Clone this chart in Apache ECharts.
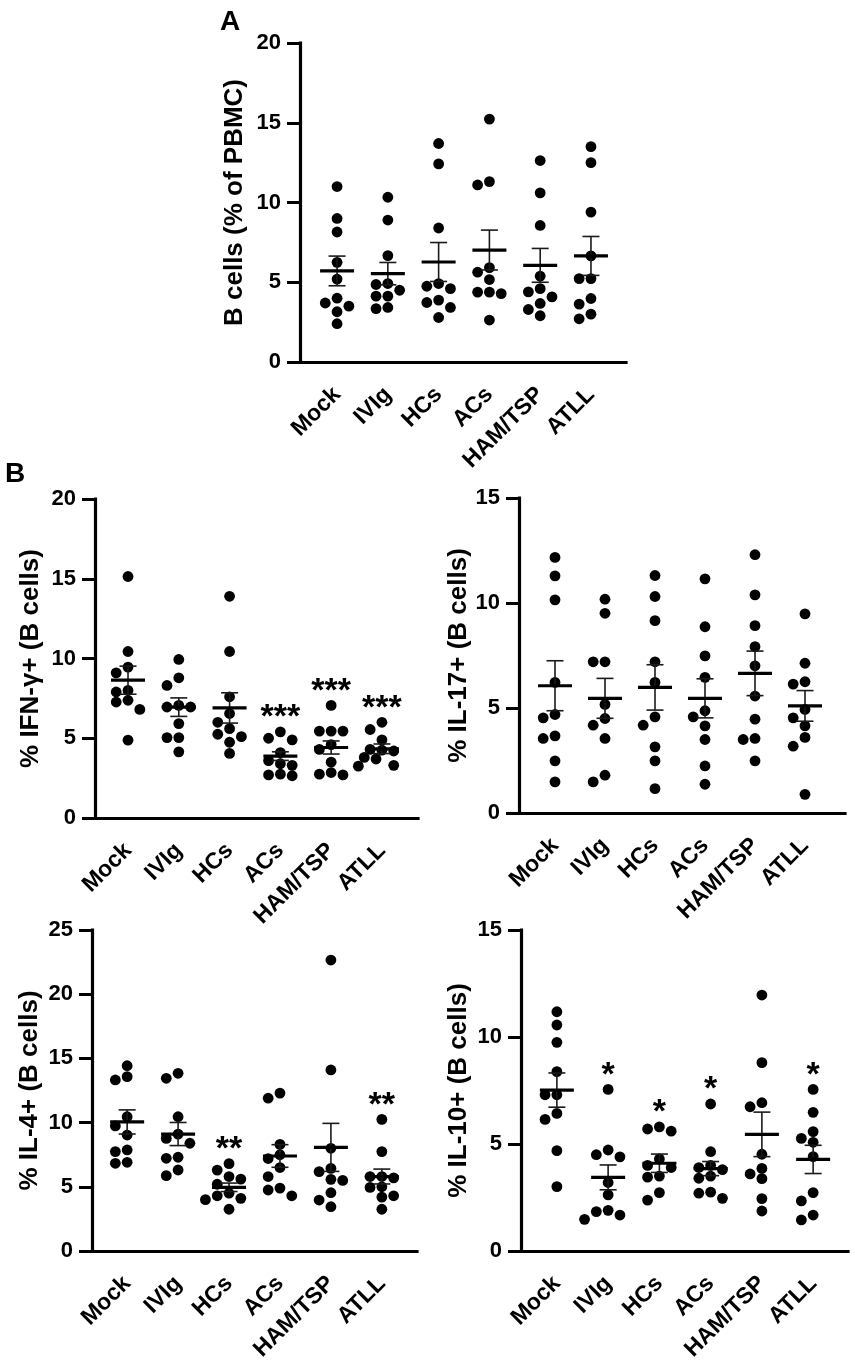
<!DOCTYPE html>
<html>
<head>
<meta charset="utf-8">
<script src="https://cdn.jsdelivr.net/npm/echarts@6/dist/echarts.min.js"></script>
<style>
html,body{margin:0;padding:0;background:#fff;}
#chart{width:855px;height:1368px;}
</style>
</head>
<body>
<div id="chart"></div>
<script>
// ---------- data ----------
const categories = ['Mock', 'IVIg', 'HCs', 'ACs', 'HAM/TSP', 'ATLL'];

const bCellsValues = [
  [11.0, 9.0, 8.15, 6.25, 5.2, 4.0, 3.7, 3.5, 3.15, 2.4],
  [10.33, 8.9, 6.67, 4.92, 4.86, 4.5, 4.13, 4.13, 3.42, 3.35],
  [13.7, 12.42, 8.4, 4.92, 4.75, 4.6, 3.88, 3.73, 3.42, 2.79],
  [15.23, 11.31, 11.1, 5.92, 5.63, 5.17, 4.38, 4.38, 4.29, 2.63],
  [12.63, 10.6, 8.56, 5.38, 4.6, 4.4, 4.08, 3.67, 3.29, 2.9],
  [13.5, 12.5, 9.4, 6.65, 5.23, 5.23, 3.98, 3.63, 3.0, 2.71]
];
const bCellsMean = [5.71, 5.54, 6.27, 7.02, 6.06, 6.65];
const bCellsSem = [0.93, 0.7, 1.22, 1.25, 1.06, 1.22];
const bCellsSig = ['', '', '', '', '', ''];

const ifngValues = [
  [15.14, 10.44, 9.46, 9.1, 8.0, 7.9, 7.38, 7.27, 6.81, 4.88],
  [9.94, 8.79, 8.31, 7.06, 6.96, 6.96, 5.92, 5.04, 5.04, 4.15],
  [13.9, 10.44, 7.6, 6.55, 6.0, 5.6, 5.25, 5.1, 4.75, 4.05],
  [5.4, 5.0, 4.9, 4.1, 3.6, 3.4, 3.3, 2.75, 2.7, 2.65],
  [7.06, 5.45, 5.45, 5.45, 4.6, 4.3, 3.5, 2.85, 2.75, 2.7],
  [6.0, 5.55, 4.9, 4.3, 4.25, 4.2, 3.8, 3.7, 3.3, 3.25]
];
const ifngMean = [8.64, 6.95, 6.9, 3.88, 4.42, 4.34];
const ifngSem = [0.88, 0.58, 0.95, 0.27, 0.41, 0.3];
const ifngSig = ['', '', '', '***', '***', '***'];

const il17Values = [
  [12.17, 11.29, 10.15, 6.22, 4.69, 4.53, 3.67, 3.55, 2.48, 1.48],
  [10.18, 9.51, 7.2, 7.2, 5.17, 4.5, 4.18, 3.55, 1.8, 1.48],
  [11.31, 10.31, 9.16, 7.2, 6.22, 4.58, 4.18, 3.15, 2.48, 1.16],
  [11.15, 8.87, 7.48, 6.46, 4.87, 4.58, 4.15, 3.5, 2.24, 1.37],
  [12.3, 10.39, 8.92, 7.92, 7.01, 5.57, 4.47, 3.55, 3.5, 2.48],
  [9.48, 7.13, 6.25, 6.14, 4.93, 4.53, 4.15, 3.6, 3.18, 0.89]
];
const il17Mean = [6.06, 5.46, 5.98, 5.46, 6.65, 5.1];
const il17Sem = [1.19, 0.95, 1.08, 0.93, 1.06, 0.73];
const il17Sig = ['', '', '', '', '', ''];

const il4Values = [
  [14.43, 13.58, 13.32, 10.46, 9.74, 9.03, 7.87, 7.74, 6.91, 6.83],
  [13.84, 13.45, 10.46, 9.1, 8.77, 8.39, 7.3, 7.22, 6.31, 5.87],
  [6.8, 6.3, 5.8, 5.6, 5.2, 4.5, 4.3, 4.1, 4.0, 3.25],
  [12.3, 11.9, 8.3, 7.5, 7.2, 6.5, 5.8, 4.9, 4.75, 4.3],
  [22.66, 14.1, 8.0, 6.44, 6.18, 5.58, 5.5, 4.54, 3.97, 3.45],
  [10.25, 7.74, 5.8, 5.8, 5.7, 5.0, 4.95, 4.3, 4.2, 3.25]
];
const il4Mean = [10.05, 9.11, 4.96, 7.4, 8.07, 5.8];
const il4Sem = [0.94, 0.9, 0.33, 0.88, 1.87, 0.58];
const il4Sig = ['', '', '**', '', '', '**'];

const il10Values = [
  [11.18, 10.56, 9.75, 8.38, 7.3, 7.3, 6.43, 6.15, 4.69, 3.01],
  [7.55, 4.72, 4.5, 4.4, 3.2, 2.62, 1.9, 1.84, 1.68, 1.48],
  [5.8, 5.7, 5.6, 4.3, 4.0, 3.9, 3.5, 3.45, 2.73, 2.38],
  [6.87, 4.64, 4.0, 3.9, 3.8, 3.5, 3.4, 2.75, 2.7, 2.46],
  [11.96, 8.8, 6.93, 6.74, 4.52, 3.86, 3.6, 3.38, 2.45, 1.87],
  [7.55, 6.48, 5.58, 5.26, 5.08, 4.41, 2.73, 2.34, 1.68, 1.45]
];
const il10Mean = [7.52, 3.44, 4.1, 3.85, 5.45, 4.28];
const il10Sem = [0.8, 0.58, 0.43, 0.33, 1.04, 0.66];
const il10Sig = ['', '*', '*', '*', '', '*'];

const yTitles = ['B cells (% of PBMC)', '% IFN-\u03b3+ (B cells)', '% IL-17+ (B cells)', '% IL-4+ (B cells)', '% IL-10+ (B cells)'];
const yMaxes = [20, 20, 15, 25, 15];
const panelLetters = ['A', 'B'];

// ---------- layout ----------
const FONT = 'Liberation Sans';
const layout = [
  {left: 300, top: 43, width: 326, height: 319, xMin: -0.73, xMax: 5.69, gap: 52},
  {left: 95, top: 499, width: 323, height: 319, xMin: -0.65, xMax: 5.71, gap: 51},
  {left: 519, top: 498, width: 326, height: 315, xMin: -0.72, xMax: 5.8, gap: 46},
  {left: 92, top: 930, width: 325, height: 321, xMin: -0.69, xMax: 5.69, gap: 49},
  {left: 521, top: 930, width: 327, height: 321, xMin: -0.70, xMax: 5.68, gap: 49}
];
const panels = [
  {values: bCellsValues, mean: bCellsMean, sem: bCellsSem, sig: bCellsSig},
  {values: ifngValues, mean: ifngMean, sem: ifngSem, sig: ifngSig},
  {values: il17Values, mean: il17Mean, sem: il17Sem, sig: il17Sig},
  {values: il4Values, mean: il4Mean, sem: il4Sem, sig: il4Sig},
  {values: il10Values, mean: il10Mean, sem: il10Sem, sig: il10Sig}
];

const DOT = 10.8;
// beeswarm spreading (pixel space) so dots at similar heights sit side by side
function swarm(vals, pyu, pxu) {
  const D = 9.8, s = 11.8;
  const cands = [0, -s, s, -s / 2, s / 2, -1.5 * s, 1.5 * s, -2 * s, 2 * s, -2.5 * s, 2.5 * s];
  const order = vals.map((v, i) => i).sort((a, b) => vals[b] - vals[a]);
  const placed = [];
  const off = new Array(vals.length).fill(0);
  for (const i of order) {
    for (const c of cands) {
      let ok = true;
      for (const p of placed) {
        const dx = c - p.x, dy = (vals[i] - p.v) * pyu;
        if (dx * dx + dy * dy < D * D - 0.01) { ok = false; break; }
      }
      if (ok) { off[i] = c; placed.push({x: c, v: vals[i]}); break; }
    }
  }
  return off.map(o => o / pxu);
}

const grids = [], xAxes = [], yAxes = [], series = [];
layout.forEach((L, k) => {
  const P = panels[k];
  const yMax = yMaxes[k];
  grids.push({left: L.left, top: L.top, width: L.width, height: L.height, containLabel: false, outerBoundsMode: 'none'});
  xAxes.push({
    type: 'value', gridIndex: k, min: L.xMin, max: L.xMax,
    axisLine: {show: true, onZero: false, lineStyle: {color: '#000', width: 3.2, cap: 'square'}},
    axisTick: {show: false}, splitLine: {show: false},
    axisLabel: {
      customValues: categories.map((c, i) => i),
      formatter: v => categories[Math.round(v)] || '',
      rotate: 45, margin: 29, color: '#000', fontFamily: FONT, fontWeight: 'bold', fontSize: 23
    }
  });
  yAxes.push({
    type: 'value', gridIndex: k, min: 0, max: yMax, interval: 5,
    name: yTitles[k], nameLocation: 'middle', nameRotate: 90, nameGap: L.gap,
    nameTextStyle: {color: '#000', fontFamily: FONT, fontWeight: 'bold', fontSize: 26},
    axisLine: {show: true, onZero: false, lineStyle: {color: '#000', width: 3.2, cap: 'square'}},
    axisTick: {show: true, length: 13, lineStyle: {color: '#000', width: 3}},
    splitLine: {show: false},
    axisLabel: {margin: 19, color: '#000', fontFamily: FONT, fontWeight: 'bold', fontSize: 22}
  });
  const pyu = L.height / yMax;
  const pxu = L.width / (L.xMax - L.xMin);
  const dots = [];
  P.values.forEach((vals, g) => {
    const offs = swarm(vals, pyu, pxu);
    vals.forEach((v, j) => dots.push([g + offs[j], v]));
  });
  series.push({
    type: 'scatter', xAxisIndex: k, yAxisIndex: k, data: dots,
    symbol: 'circle', symbolSize: DOT, itemStyle: {color: '#000', opacity: 1}, z: 2,
    silent: true
  });
  series.push({
    type: 'custom', xAxisIndex: k, yAxisIndex: k, z: 3, silent: true,
    data: P.mean.map((m, g) => [g, m, P.sem[g]]),
    renderItem: function (params, api) {
      const g = api.value(0), m = api.value(1), e = api.value(2);
      const c = api.coord([g, m]);
      const t = api.coord([g, m + e]);
      const b = api.coord([g, m - e]);
      const thin = {stroke: '#1a1a1a', lineWidth: 1.6};
      return {
        type: 'group',
        children: [
          {type: 'line', shape: {x1: c[0], y1: t[1], x2: c[0], y2: b[1]}, style: thin},
          {type: 'line', shape: {x1: c[0] - 8.5, y1: t[1], x2: c[0] + 8.5, y2: t[1]}, style: thin},
          {type: 'line', shape: {x1: c[0] - 8.5, y1: b[1], x2: c[0] + 8.5, y2: b[1]}, style: thin},
          {type: 'line', shape: {x1: c[0] - 17, y1: c[1], x2: c[0] + 17, y2: c[1]}, style: {stroke: '#000', lineWidth: 3.2}}
        ]
      };
    }
  });
  const stars = [];
  P.sig.forEach((s, g) => {
    if (s) stars.push({value: [g, Math.max.apply(null, P.values[g])], name: s});
  });
  if (stars.length) {
    series.push({
      type: 'scatter', xAxisIndex: k, yAxisIndex: k, data: stars, symbolSize: 0,
      itemStyle: {color: '#000'}, z: 4, silent: true,
      label: {
        show: true, position: 'top', distance: 0, formatter: p => p.name,
        color: '#000', opacity: 1, textBorderWidth: 0, fontFamily: FONT, fontWeight: 'bold', fontSize: 34,
        lineHeight: 34, offset: [0, 3]
      }
    });
  }
});

const chart = echarts.init(document.getElementById('chart'), null, {renderer: 'canvas'});
chart.setOption({
  animation: false,
  backgroundColor: '#fff',
  grid: grids, xAxis: xAxes, yAxis: yAxes, series: series,
  graphic: [
    {type: 'text', left: 220, top: 8, style: {text: panelLetters[0], fill: '#000', font: 'bold 28px "' + FONT + '"'}},
    {type: 'text', left: 5, top: 460, style: {text: panelLetters[1], fill: '#000', font: 'bold 28px "' + FONT + '"'}}
  ]
});
</script>
</body>
</html>
